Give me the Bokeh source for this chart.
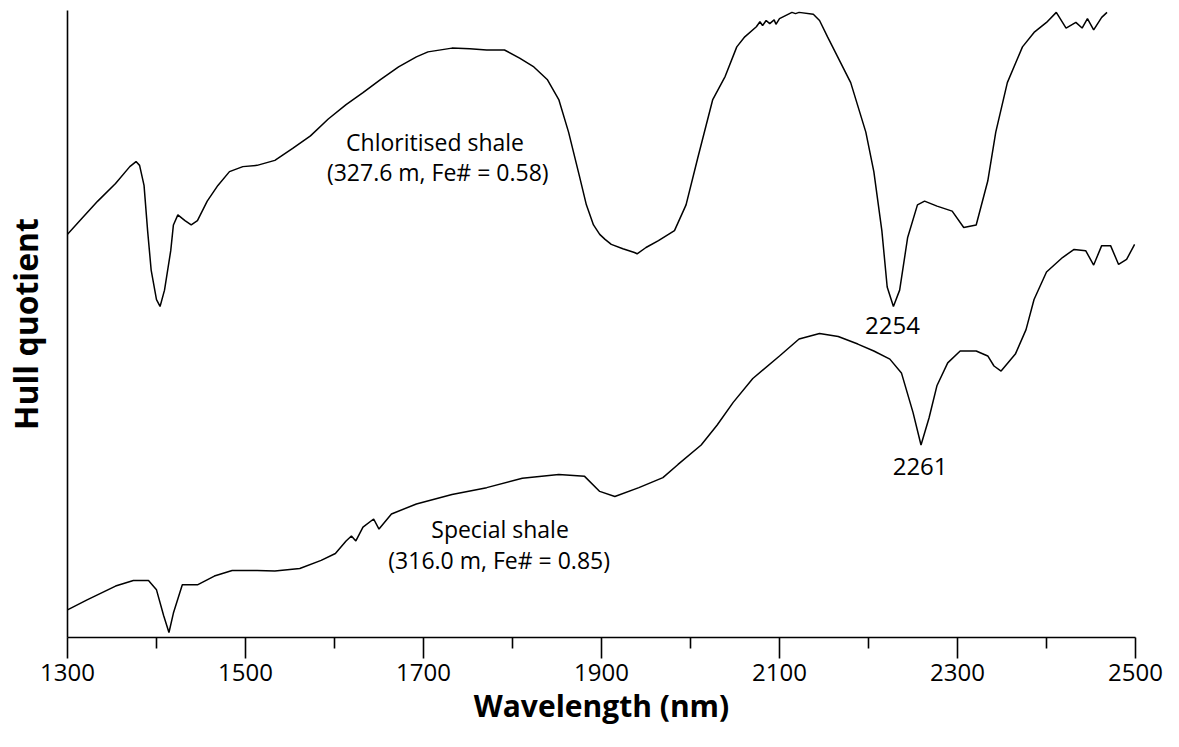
from bokeh.plotting import figure
from bokeh.models import Range1d, FixedTicker, ColumnDataSource
from bokeh.core.properties import value
from bokeh.embed import file_html
from bokeh.resources import INLINE

# ---- data ----
chl_wl = [1300, 1314, 1334, 1354, 1370, 1377, 1381, 1386, 1390, 1394, 1400, 1404,
          1409, 1416, 1419, 1424, 1432, 1439, 1446, 1457, 1469, 1482, 1497, 1513,
          1533, 1553, 1573, 1593, 1613, 1632, 1652, 1672, 1692, 1705, 1732, 1752,
          1771, 1791, 1808, 1824, 1839, 1852, 1863, 1875, 1883, 1891, 1898, 1904, 1911,
          1924, 1937, 1940, 1950, 1964, 1982, 1995, 2008, 2025, 2039, 2052, 2061, 2074,
          2078, 2081, 2085, 2089, 2094, 2096, 2100, 2114, 2118, 2122, 2138, 2145,
          2154, 2180, 2197, 2206, 2215, 2221, 2228, 2235, 2244, 2255, 2263, 2277,
          2294, 2307, 2321, 2334, 2343, 2356, 2373, 2386, 2400, 2411, 2422, 2433,
          2440, 2446, 2453, 2462, 2468]
chl_hq = [0.643, 0.665, 0.696, 0.724, 0.751, 0.759, 0.753, 0.721, 0.649, 0.586, 0.539, 0.528,
          0.554, 0.617, 0.658, 0.674, 0.665, 0.658, 0.665, 0.696, 0.721, 0.743, 0.751, 0.753,
          0.761, 0.780, 0.800, 0.827, 0.850, 0.869, 0.890, 0.910, 0.926, 0.934, 0.940, 0.939,
          0.937, 0.937, 0.924, 0.910, 0.890, 0.858, 0.806, 0.737, 0.690, 0.658, 0.643, 0.635, 0.627,
          0.620, 0.614, 0.612, 0.622, 0.633, 0.649, 0.690, 0.764, 0.858, 0.895, 0.942, 0.958, 0.974,
          0.982, 0.976, 0.984, 0.979, 0.985, 0.978, 0.987, 0.997, 0.995, 0.997, 0.994, 0.984,
          0.958, 0.885, 0.806, 0.743, 0.649, 0.559, 0.528, 0.554, 0.638, 0.690, 0.696, 0.688,
          0.680, 0.654, 0.658, 0.728, 0.806, 0.885, 0.942, 0.965, 0.981, 0.997, 0.972, 0.981,
          0.972, 0.987, 0.969, 0.989, 0.997]

spe_wl = [1300, 1322, 1354, 1374, 1391, 1400, 1408, 1414, 1419, 1429, 1446, 1465,
          1485, 1513, 1533, 1561, 1585, 1601, 1613, 1619, 1624, 1632, 1644, 1650,
          1664, 1692, 1732, 1771, 1811, 1852, 1881, 1898, 1915, 1942, 1969, 1986,
          2012, 2030, 2048, 2070, 2100, 2122, 2145, 2166, 2188, 2206, 2224, 2237,
          2250, 2259, 2268, 2277, 2289, 2303, 2321, 2334, 2341, 2349, 2365, 2377,
          2386, 2400, 2418, 2431, 2444, 2453, 2462, 2472, 2481, 2490, 2499]
spe_hq = [0.044, 0.060, 0.082, 0.091, 0.091, 0.076, 0.035, 0.008, 0.039, 0.084, 0.084, 0.098,
          0.107, 0.107, 0.106, 0.110, 0.123, 0.134, 0.154, 0.162, 0.154, 0.176, 0.189, 0.173,
          0.197, 0.213, 0.228, 0.239, 0.254, 0.260, 0.257, 0.233, 0.225, 0.239, 0.255, 0.276,
          0.307, 0.339, 0.375, 0.413, 0.449, 0.476, 0.485, 0.480, 0.468, 0.457, 0.444, 0.422,
          0.359, 0.307, 0.350, 0.402, 0.438, 0.457, 0.457, 0.449, 0.433, 0.425, 0.452, 0.491,
          0.539, 0.583, 0.606, 0.619, 0.617, 0.594, 0.625, 0.625, 0.595, 0.603, 0.627]

major_ticks = [1300, 1500, 1700, 1900, 2100, 2300, 2500]
minor_ticks = [1400, 1600, 1800, 2000, 2200, 2400]

label_text = ["Chloritised shale", "(327.6 m, Fe# = 0.58)",
              "Special shale", "(316.0 m, Fe# = 0.85)", "2254", "2261"]
label_x = [1713, 1716, 1786, 1785, 2227, 2258]
label_y = [0.791, 0.743, 0.173, 0.123, 0.498, 0.273]
label_size = ["23px", "23px", "23px", "23px", "24px", "24px"]

x_title = "Wavelength (nm)"
y_title = "Hull quotient"

# ---- figure ----
p = figure(width=1163, height=731, x_range=Range1d(1300, 2500), y_range=Range1d(0, 1),
           output_backend="svg", toolbar_location=None,
           min_border_left=63, min_border_right=28, min_border_top=10, min_border_bottom=94)
p.outline_line_color = None
p.grid.visible = False
p.background_fill_color = "white"
p.border_fill_color = "white"

p.line(chl_wl, chl_hq, line_color="black", line_width=1.5)
p.line(spe_wl, spe_hq, line_color="black", line_width=1.5)

src = ColumnDataSource(dict(x=label_x, y=label_y, t=label_text, s=label_size))
p.text(x="x", y="y", text="t", source=src, text_align="center", text_baseline="middle",
       text_font=value("Open Sans"), text_font_size="s", text_color="black")

xa = p.xaxis[0]
xa.ticker = FixedTicker(ticks=major_ticks, minor_ticks=minor_ticks)
xa.axis_line_color = "black"
xa.axis_line_width = 1.6
xa.major_tick_line_color = "black"
xa.major_tick_line_width = 1.6
xa.minor_tick_line_color = "black"
xa.minor_tick_line_width = 1.6
xa.major_tick_in = 0
xa.major_tick_out = 21
xa.minor_tick_in = 0
xa.minor_tick_out = 11
xa.major_label_standoff = 5
xa.major_label_text_font = "Open Sans"
xa.major_label_text_font_size = "24px"
xa.major_label_text_color = "black"
xa.axis_label = x_title
xa.axis_label_text_font = "Open Sans"
xa.axis_label_text_font_style = "bold"
xa.axis_label_text_font_size = "30px"
xa.axis_label_text_color = "black"
xa.axis_label_standoff = 1

ya = p.yaxis[0]
ya.ticker = FixedTicker(ticks=[])
ya.axis_line_color = "black"
ya.axis_line_width = 1.6
ya.major_tick_line_color = None
ya.minor_tick_line_color = None
ya.major_label_text_font_size = "0px"
ya.axis_label = y_title
ya.axis_label_text_font = "Open Sans"
ya.axis_label_text_font_style = "bold"
ya.axis_label_text_font_size = "32px"
ya.axis_label_text_color = "black"
ya.axis_label_standoff = 21

open("out.html", "w").write(file_html(p, INLINE))
